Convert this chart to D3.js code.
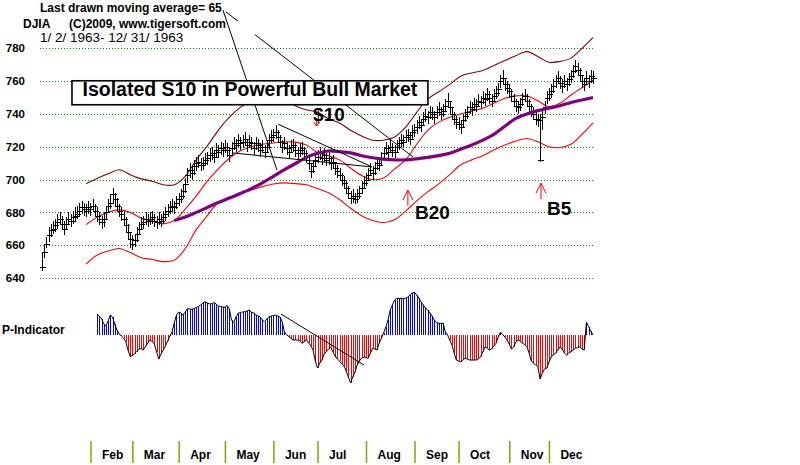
<!DOCTYPE html>
<html><head><meta charset="utf-8">
<script src="https://cdn.jsdelivr.net/npm/d3@7"></script>
<style>body{margin:0;background:#fff}svg{display:block}</style>
</head><body><svg id="c" width="800" height="465"></svg>
<script>
// ---- DATA (DJIA daily bars, 1963; index = trading day) ----
const closes = [647,656,661,666,669,670,672,674,676,673,670,673,676,675,677,678,679,681,683,682,681,683,
682,684,681,678,676,674,676,680,684,686,691,688,684,681,679,676,672,668,664,
661,663,667,670,673,674,676,675,676,677,675,674,676,675,677,679,681,683,684,683,686,
688,690,693,697,703,706,704,708,710,711,709,710,712,713,715,716,714,718,717,719,718,
720,718,715,719,722,721,724,722,723,725,721,723,722,719,722,721,718,720,717,720,724,726,
727,729,726,723,720,722,719,717,720,721,718,716,718,719,716,714,710,705,708,712,
714,716,713,715,712,713,710,711,707,705,703,700,698,695,692,689,690,688,690,692,695,698,
700,703,706,704,707,710,709,713,716,719,717,720,718,717,720,722,724,723,726,727,725,729,
730,732,735,733,737,739,738,741,740,738,741,743,740,742,745,748,744,740,737,735,
734,732,736,739,741,744,743,746,745,748,747,750,749,752,750,748,751,753,755,760,762,758,756,
754,751,748,745,744,746,749,751,748,745,742,740,737,736,712,738,744,750,
752,754,757,760,762,759,757,760,758,761,763,766,769,767,764,760,758,762,760,763,762];
const highs = [655,660,665,671,673,675,676,679,680,678,675,677,680,679,681,683,684,686,687,686,685,687,
686,688,685,683,680,678,680,684,688,691,695,692,689,685,683,681,677,673,668,
666,667,671,674,677,678,680,679,680,681,679,678,680,679,681,683,685,687,688,687,690,
692,694,697,701,707,710,709,712,714,715,713,714,716,717,719,720,718,722,721,723,722,
724,722,720,723,726,725,728,726,727,729,725,727,726,723,726,725,722,724,721,724,728,730,
731,733,730,727,724,726,723,721,724,725,722,720,722,723,720,718,715,710,712,716,
718,720,717,719,716,717,714,715,711,709,707,704,702,699,696,693,694,692,694,696,699,702,
704,707,710,708,711,714,713,717,720,723,721,724,722,721,724,726,728,727,730,731,729,733,
734,736,739,737,741,743,742,745,744,742,745,747,744,746,749,753,748,744,741,739,
738,736,740,743,745,748,747,750,749,752,751,754,753,756,754,752,755,757,759,764,767,762,760,
758,755,752,749,748,750,753,755,752,749,746,744,741,740,740,742,748,754,
756,758,761,764,766,763,761,764,762,765,767,770,773,771,768,764,762,766,764,767,766];
const lows = [644,652,658,662,665,667,668,670,672,669,666,669,672,671,673,674,676,677,679,678,677,679,
678,680,677,674,672,670,671,676,680,682,686,683,680,677,675,672,668,663,658,
657,659,662,666,669,670,672,671,672,673,671,670,672,671,673,675,677,679,680,679,682,
684,686,688,692,698,701,700,703,705,707,705,706,708,709,711,712,710,714,713,715,714,
716,714,711,715,718,717,720,718,719,721,717,719,718,715,718,717,714,716,713,716,720,722,
723,725,722,719,716,718,715,713,716,717,714,712,714,715,712,710,706,701,704,708,
710,712,709,711,708,709,706,707,703,701,699,696,694,691,688,685,686,685,686,688,691,694,
696,699,702,700,703,706,705,709,712,715,713,716,714,713,716,718,720,719,722,723,721,725,
726,728,731,729,733,735,734,737,736,734,737,739,736,738,741,744,740,736,733,731,
730,728,732,735,737,740,739,742,741,744,743,746,745,748,746,744,747,749,751,756,758,754,752,
750,747,744,741,740,742,745,747,744,741,738,736,733,732,711,730,740,746,
748,750,753,756,758,755,753,756,754,757,759,762,765,763,760,756,754,758,756,759,758];

// moving-average lines, every 5 trading days
const bandFirst = 20;          // first index of the 21-day lines
const ma21 = [672.5,677,680,681.5,680,676.5,674.7,673,675,682,690,699,706.5,713,717.5,720,721.5,722.3,723,722.8,
721,716.5,714.5,712,707,702.5,700,701,706.5,712,721.5,730,735,738,740,741.7,743.5,746.5,749.5,751,
751,748,744.5,746.5,751.5,756,760.5];
const upperBand = [697.5,700.7,703.5,706,703,700.4,699,696.8,696.8,702,712,720.5,730,738,744,748.5,752,753,750,745,
742.5,741,737,734.5,730,726.5,724,724,726,732,741,749,753.5,758,763,765,766.5,769.5,772.5,775.5,
778,775,771.5,772,774,780,786.5];
const lowerBand = [648.5,654,656.5,658,655.5,652.4,651.3,650,650.8,658,669.5,678,686,689,691.5,693.7,695.7,697.3,698,697.5,
696.8,694.5,692,687.8,682.5,678,675,673.8,675.5,680.8,687,692.5,697.4,703,709,712,714.5,718,721,723.5,
725,723,720,719.5,721.5,727.5,734.5];
const ma65First = 60;
const ma65 = [675,677.2,680,683,686,688.7,691.5,694.5,698,702,706,709.8,713.5,716,717.4,717,716.3,714.5,713.3,712.5,
712,712,712.6,713.5,714.6,716,718.5,721,724,727.5,732.5,737.3,740,742,743.5,745,747,748.5,750];

// P-Indicator, from trading day 25
const pFirst = 25;
const pInd = [21,19,16.5,11,9,14,20,18,11,5,1.5,-1,-3,-6.5,-15,-21.5,-20.5,-18.5,-16.5,-14,-13.5,-15,-11,-8,-5,
-6.5,-9,-17,-24,-19,-15,-11,-6,-1,3,12,20,23,22,20,23,26.5,26,25.7,26.5,27.5,28.5,30,32,33.3,
32,31,31.5,32.3,31,29,28.5,28,27.7,29.5,26,15,12,18,21.7,22.5,23,23.3,24,25,23,22,20,19,18,
15,13.3,16,18.3,19,19.5,20,19,18,13,3,0,-1.5,-3.5,-5,-5,-5,-5.5,-8.3,-6.5,-5,-8,-11,-15,-26,
-33,-28,-25,-19,-16.7,-14,-12,-17,-21,-24,-26,-29,-31,-36,-42,-47.7,-42,-37,-30,-26,-23,-22,-22.5,-23.3,-18,
-13.3,-14,-15,-8,-3.3,2,8,15,25,30,35,36.7,36.5,36.7,36.5,36.7,38,40,42,42.7,40,37,33,30,27,
25,22,19,15,12.5,11.7,11.7,11.7,3,0,-5,-10,-18,-25,-26,-26.7,-25,-23.3,-24,-25,-25,-25,-25,-24,-21.7,
-17,-12,-13,-15,-14,-11,-8.3,-2,2.7,0.5,-2,-5,-9,-14,-12,-7,-5,-6,-8.3,-9.5,-11.7,-18,-26,-28.3,-30,
-31.7,-44,-38,-34,-33.3,-27,-22,-20,-18.3,-15,-12,-14,-18,-20,-18,-16.7,-15,-13.3,-12.5,-11.7,-14,-15,12.7,8.3,4,0];

const yTicks = [640,660,680,700,720,740,760,780];
const monthIdx = [22,41,62,83,105,125,147,169,189,212,230];
const monthNames = ["Feb","Mar","Apr","May","Jun","Jul","Aug","Sep","Oct","Nov","Dec"];

// annotations (trading-day index, price)
const trendLines = [
  [[82.1,803.3],[106.6,705.8]],
  [[83.5,802.1],[88.9,796.6]],
  [[96.6,788.4],[168.3,713.8]],
  [[107.2,733.7],[149.6,707.8]],
  [[86.7,716.2],[149.7,707.7]]
];
const pTrend = [[108.4,21],[146.1,-30]];
const signals = [
  {label:"$10", idx:124.6, from:737.5, to:732.6, dir:"down", tx:123, ty:735.7},
  {label:"B20", idx:166, from:683.9, to:693.6, dir:"up", tx:169.2, ty:676},
  {label:"B5",  idx:226.4, from:688, to:697.8, dir:"up", tx:229.1, ty:678.4}
];
const boxSpan = {i0:13.6, i1:175.1, vTop:760.2, vBot:745.6, vText:750.9};

// ---- DRAW ----
const font = '"Liberation Sans", Arial, Helvetica, sans-serif';
const svg = d3.select('#c').style('font-family', font);
const x = d3.scaleLinear().domain([0,250]).range([42,593]);
const y = d3.scaleLinear().domain([640,780]).range([278,48.3]);
const yP = d3.scaleLinear().domain([-50,50]).range([385,285]);
const px = i => Math.round(x(i)) + 0.5;

// grid + y labels
const gy = svg.append('g').attr('transform','translate(40,0)')
  .call(d3.axisLeft(y).tickValues(yTicks).tickSize(-553).tickPadding(15).tickFormat(d3.format('d')));
gy.select('.domain').remove();
gy.selectAll('.tick line').attr('stroke','#008000').attr('stroke-dasharray','1,2')
  .attr('shape-rendering','crispEdges');
gy.selectAll('.tick text').attr('fill','#000').style('font-size','11.5px').style('font-weight','bold')
  .style('font-family',font);

// bands
const band = (arr, first) => arr.map((v,k)=>[first+5*k, v]);
const line = d3.line().x(d=>x(d[0])).y(d=>y(d[1])).curve(d3.curveCatmullRom);
svg.append('path').attr('d', line(band(upperBand,bandFirst))).attr('fill','none').attr('stroke','#8b0000').attr('stroke-width',1.1);
svg.append('path').attr('d', line(band(lowerBand,bandFirst))).attr('fill','none').attr('stroke','#ff0000').attr('stroke-width',1.1);
svg.append('path').attr('d', line(band(ma21,bandFirst))).attr('fill','none').attr('stroke','#ff0000').attr('stroke-width',1.1);

// price bars
const bars = svg.append('g').attr('stroke','#000').attr('stroke-width',1).attr('shape-rendering','crispEdges');
closes.forEach((c,i)=>{
  bars.append('line').attr('x1',px(i)).attr('x2',px(i)).attr('y1',y(highs[i])).attr('y2',y(lows[i]));
  bars.append('line').attr('x1',px(i)-2.5).attr('x2',px(i)+3).attr('y1',Math.round(y(c))+0.5).attr('y2',Math.round(y(c))+0.5);
});

// 65-day MA
svg.append('path').attr('d', line(band(ma65,ma65First))).attr('fill','none').attr('stroke','#800080').attr('stroke-width',3.2);

// trendlines
svg.append('g').selectAll('line').data(trendLines).join('line')
  .attr('x1',d=>x(d[0][0])).attr('y1',d=>y(d[0][1])).attr('x2',d=>x(d[1][0])).attr('y2',d=>y(d[1][1]))
  .attr('stroke','#000').attr('stroke-width',1);

// label box
svg.append('rect').attr('x',x(boxSpan.i0)).attr('y',y(boxSpan.vTop))
  .attr('width',x(boxSpan.i1)-x(boxSpan.i0)).attr('height',y(boxSpan.vBot)-y(boxSpan.vTop))
  .attr('fill','#fff').attr('stroke','#000').attr('stroke-width',1.6);
svg.append('text').attr('x',(x(boxSpan.i0)+x(boxSpan.i1))/2).attr('y',y(boxSpan.vText))
  .attr('text-anchor','middle').style('font-size','19.5px').style('font-weight','bold')
  .text('Isolated S10 in Powerful Bull Market');

// signals
signals.forEach(s=>{
  const xx = x(s.idx), y0 = y(s.from), y1 = y(s.to);
  const g = svg.append('g').attr('stroke','#ff0000').attr('stroke-width',1).attr('fill','none');
  g.append('line').attr('x1',xx).attr('x2',xx).attr('y1',y0).attr('y2',y1);
  const hw = s.dir==='up' ? 5 : 3, hh = s.dir==='up' ? 10 : 4;
  const sg = s.dir==='up' ? 1 : -1;
  g.append('path').attr('d',`M${xx-hw},${y1+sg*hh}L${xx},${y1}L${xx+hw},${y1+sg*hh}`);
  svg.append('text').attr('x',x(s.tx)).attr('y',y(s.ty)).style('font-size','19px').style('font-weight','bold').text(s.label);
});

// header texts
svg.append('text').attr('x',40).attr('y',12).style('font-size','12px').style('font-weight','bold').text('Last drawn moving average= 65');
svg.append('text').attr('x',23).attr('y',28).style('font-size','12px').style('font-weight','bold').text('DJIA');
svg.append('text').attr('x',69).attr('y',28).style('font-size','12px').style('font-weight','bold').text('(C)2009, www.tigersoft.com');
svg.append('text').attr('x',40).attr('y',42).style('font-size','13.5px').text('1/ 2/ 1963- 12/ 31/ 1963');

// P-Indicator
svg.append('text').attr('x',2).attr('y',334).style('font-size','12px').style('font-weight','bold').text('P-Indicator');
const pts = pInd.map((v,k)=>[pFirst+k, v]);
svg.append('g').attr('shape-rendering','crispEdges').selectAll('line').data(pts).join('line')
  .attr('x1',d=>px(d[0])).attr('x2',d=>px(d[0])).attr('y1',yP(0)).attr('y2',d=>yP(d[1]))
  .attr('stroke',d=>d[1]>=0?'#0000ff':'#ff0000').attr('stroke-width',1);
svg.append('path').attr('d', d3.line().x(d=>x(d[0])).y(d=>yP(d[1]))(pts))
  .attr('fill','none').attr('stroke','#000').attr('stroke-width',1);
svg.append('line').attr('x1',x(pTrend[0][0])).attr('y1',yP(pTrend[0][1])).attr('x2',x(pTrend[1][0])).attr('y2',yP(pTrend[1][1]))
  .attr('stroke','#000').attr('stroke-width',1);

// month axis
const gx = svg.append('g').attr('transform','translate(0,441)')
  .call(d3.axisBottom(x).tickValues(monthIdx).tickSize(22).tickFormat((d,k)=>monthNames[k]));
gx.select('.domain').remove();
gx.selectAll('.tick line').attr('stroke','#8c9f00').attr('stroke-width',1.5);
gx.selectAll('.tick text').attr('fill','#000').attr('text-anchor','start').attr('x',11).attr('y',18).attr('dy',0)
  .style('font-size','12px').style('font-weight','bold').style('font-family',font);
</script></body></html>
